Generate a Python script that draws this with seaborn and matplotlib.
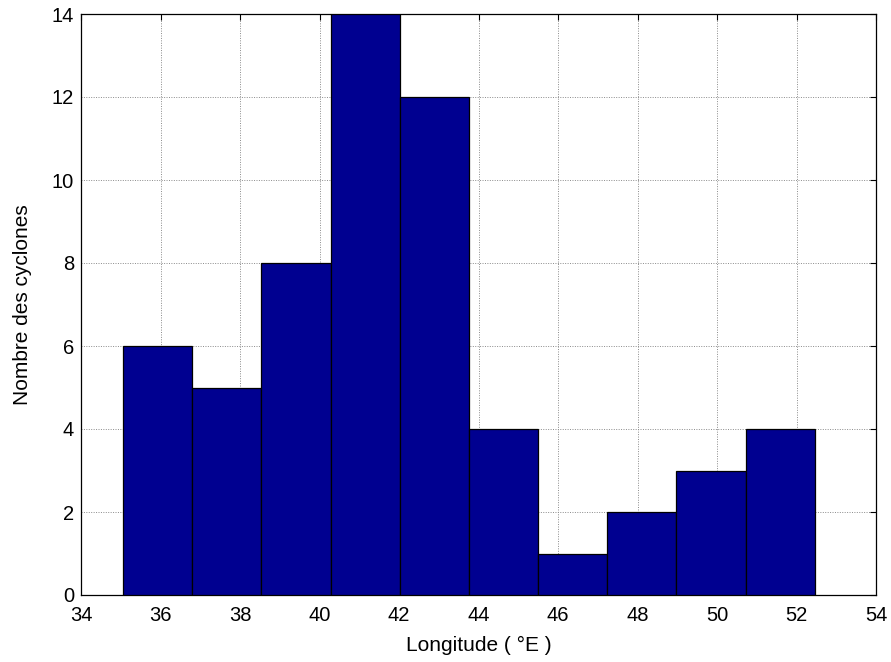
import matplotlib
matplotlib.use("Agg")
import matplotlib.pyplot as plt
import seaborn as sns
import numpy as np

# Data
bin_edges = [35.06, 36.80, 38.54, 40.28, 42.02, 43.76, 45.50, 47.24, 48.98, 50.72, 52.46]
counts = [6, 5, 8, 14, 12, 4, 1, 2, 3, 4]
x_ticks = [34, 36, 38, 40, 42, 44, 46, 48, 50, 52, 54]
y_ticks = [0, 2, 4, 6, 8, 10, 12, 14]

centers = [(a + b) / 2 for a, b in zip(bin_edges[:-1], bin_edges[1:])]

sns.set_style("white")
plt.rcParams['font.family'] = ['Liberation Sans', 'DejaVu Sans']

fig = plt.figure(figsize=(8.91, 6.62), dpi=100)
ax = fig.add_axes([81/891, 1 - 595/662, (876-81)/891, (595-14)/662])

sns.histplot(x=centers, weights=counts, bins=bin_edges, ax=ax,
             color="#000090", edgecolor="black", linewidth=0.9, alpha=1.0,
             zorder=3)

ax.set_xlim(34, 54)
ax.set_ylim(0, 14)
ax.set_xticks(x_ticks)
ax.set_yticks(y_ticks)
ax.grid(True, linestyle=(0, (1, 1.5)), color="#8a8a8a", linewidth=0.7, zorder=0)
ax.set_axisbelow(True)
ax.tick_params(direction="in", length=4, width=0.8, top=True, right=True,
               labelsize=14.5, colors="black", labelcolor="black")
ax.tick_params(axis="x", pad=8)
ax.tick_params(axis="y", pad=5)
for sp in ax.spines.values():
    sp.set_visible(True)
    sp.set_color("black")
    sp.set_linewidth(0.9)

ax.set_xlabel("Longitude ( °E )", fontsize=15, labelpad=8, color="black")
ax.set_ylabel("Nombre des cyclones", fontsize=15, labelpad=14, color="black")

fig.savefig("out.png", dpi=100, facecolor="white")
